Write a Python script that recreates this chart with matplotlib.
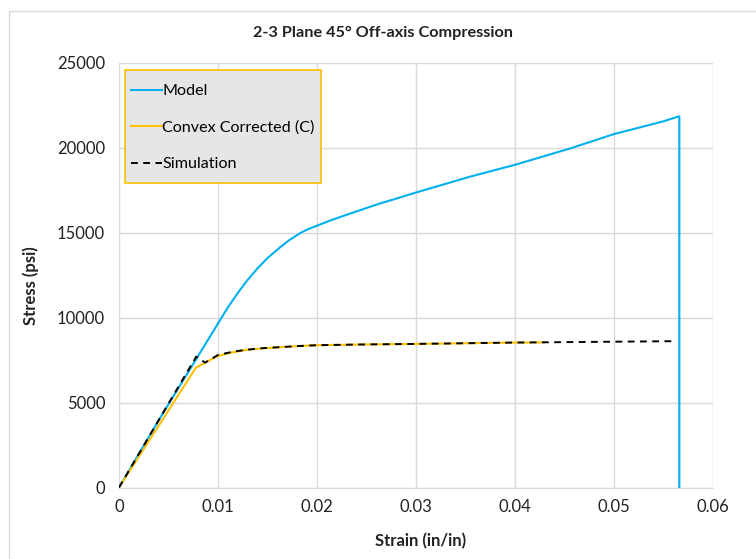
import matplotlib
matplotlib.use("Agg")
import matplotlib.pyplot as plt
from matplotlib.patches import Rectangle

plt.rcParams['font.family'] = ['Lato', 'DejaVu Sans']

# Data
model_strain = [0, 0.004, 0.008, 0.010, 0.011, 0.012, 0.0129, 0.014, 0.015, 0.0163, 0.0173,
                0.0183, 0.019, 0.0201, 0.0215, 0.023, 0.025, 0.0264, 0.028,
                0.030, 0.0355, 0.040, 0.0456, 0.050, 0.053, 0.055, 0.0566, 0.0566]
model_stress = [0, 3950, 7750, 9650, 10600, 11450, 12150, 12900, 13500, 14150, 14600,
                14970, 15180, 15430, 15750, 16050, 16450, 16720, 17000,
                17360, 18300, 18990, 19960, 20800, 21250, 21550, 21850, 0]

convex_strain = [0, 0.00778, 0.0100, 0.0115, 0.0129, 0.0145, 0.0163, 0.018, 0.020, 0.025,
                 0.030, 0.035, 0.040, 0.0429]
convex_stress = [0, 7060, 7745, 7960, 8100, 8190, 8257, 8320, 8375, 8420,
                 8450, 8490, 8530, 8540]

sim_strain = [0, 0.0078, 0.0087, 0.0100, 0.0115, 0.0129, 0.0145, 0.0163, 0.018, 0.020,
              0.025, 0.030, 0.040, 0.050, 0.056]
sim_stress = [0, 7700, 7350, 7800, 7990, 8110, 8200, 8260, 8320, 8375,
              8420, 8450, 8530, 8580, 8610]

x_ticks = [0, 0.01, 0.02, 0.03, 0.04, 0.05, 0.06]
x_labels = ["0", "0.01", "0.02", "0.03", "0.04", "0.05", "0.06"]
y_ticks = [0, 5000, 10000, 15000, 20000, 25000]
y_labels = ["0", "5000", "10000", "15000", "20000", "25000"]

W, H = 756, 559
fig = plt.figure(figsize=(W / 100, H / 100), dpi=100)

# chart border
fig.patches.append(Rectangle((9 / W, -0.05), 1.1, 1 - 11 / H + 0.05, transform=fig.transFigure,
                             fill=False, edgecolor='#d9d9d9', linewidth=1))

ax = fig.add_axes([119 / W, 1 - 487.5 / H, (713 - 119) / W, (487.5 - 62.7) / H])

grid_c = '#d9d9d9'
ax.plot(model_strain, model_stress, color='#00b0f0', lw=1.5, label='Model', zorder=3)
ax.plot(convex_strain, convex_stress, color='#ffc000', lw=1.5, label='Convex Corrected (C)', zorder=3)
ax.plot(sim_strain, sim_stress, color='black', lw=1.4, ls=(0, (3.5, 2.8)), label='Simulation', zorder=4)

ax.set_xlim(0, 0.06)
ax.set_ylim(0, 25000)
ax.set_xticks(x_ticks)
ax.set_xticklabels(x_labels)
ax.set_yticks(y_ticks)
ax.set_yticklabels(y_labels)
ax.grid(True, color=grid_c, lw=1)
ax.set_axisbelow(True)
for s in ['top', 'right', 'left']:
    ax.spines[s].set_visible(False)
ax.spines['bottom'].set_color(grid_c)
ax.tick_params(length=0, labelsize=12, colors='#222222')
ax.tick_params(axis='x', pad=8)
ax.tick_params(axis='y', pad=10)

fig.text(383 / W, 1 - 33 / H, "2-3 Plane 45° Off-axis Compression", ha='center', va='center',
         fontsize=11.7, fontweight='bold', color='#222222')
fig.text(421 / W, 1 - 541 / H, "Strain (in/in)", ha='center', va='center',
         fontsize=12, fontweight='bold', color='#222222')
fig.text(31 / W, 1 - 286 / H, "Stress (psi)", ha='center', va='center', rotation=90,
         fontsize=12, fontweight='bold', color='#222222')

# legend box (drawn separately for exact placement)
lx0, ly0, lx1, ly1 = 125, 70, 321, 183
fig.patches.append(Rectangle((lx0 / W, 1 - ly1 / H), (lx1 - lx0) / W, (ly1 - ly0) / H,
                             transform=fig.transFigure, facecolor='#e7e6e6', edgecolor='#ffc000',
                             linewidth=1.2, zorder=5))
leg = fig.legend(*ax.get_legend_handles_labels(), loc='upper left',
                 bbox_to_anchor=(131 / W, 1 - 84 / H), bbox_transform=fig.transFigure,
                 frameon=False, fontsize=11.6, handlelength=1.9, handletextpad=0.05,
                 labelspacing=1.38, borderpad=0, borderaxespad=0)
leg.set_zorder(6)

fig.savefig("out.png", dpi=100)
